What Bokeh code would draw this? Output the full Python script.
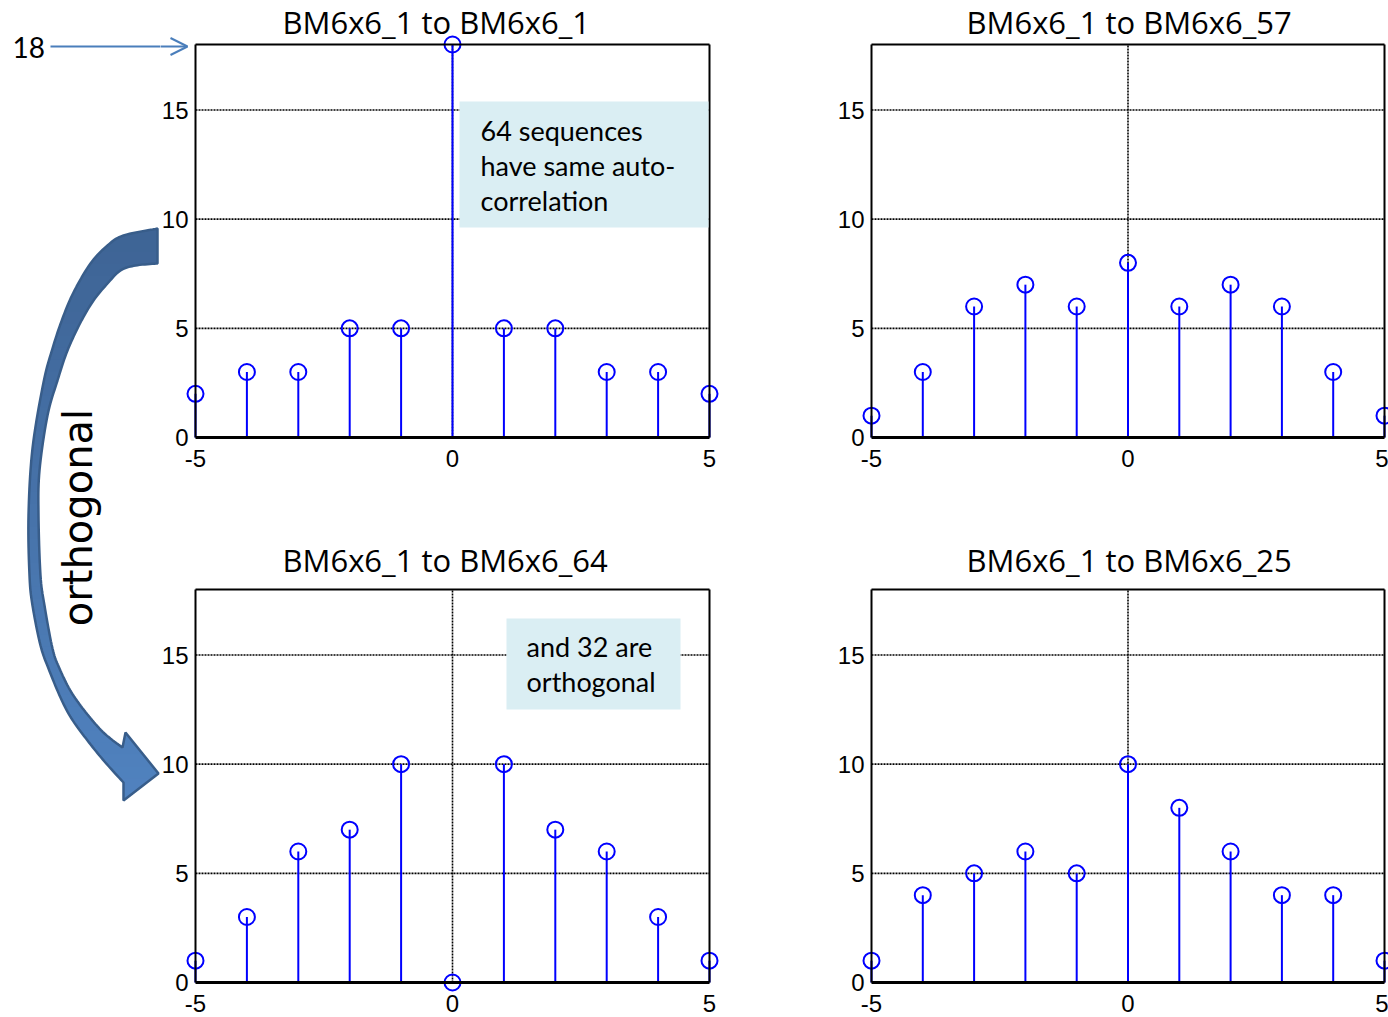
import numpy as np
from bokeh.plotting import figure
from bokeh.models import Range1d, FixedTicker, Label, BoxAnnotation, Arrow, OpenHead, ColumnDataSource
from bokeh.layouts import row, column
from bokeh.embed import file_html
from bokeh.resources import INLINE

# ---------------- data ----------------
lags = [-5, -4, -3, -2, -1, 0, 1, 2, 3, 4, 5]
vals_1_to_1 = [2, 3, 3, 5, 5, 18, 5, 5, 3, 3, 2]
vals_1_to_57 = [1, 3, 6, 7, 6, 8, 6, 7, 6, 3, 1]
vals_1_to_64 = [1, 3, 6, 7, 10, 0, 10, 7, 6, 3, 1]
vals_1_to_25 = [1, 4, 5, 6, 5, 10, 8, 6, 4, 4, 1]
titles = ["BM6x6_1 to BM6x6_1", "BM6x6_1 to BM6x6_57",
          "BM6x6_1 to BM6x6_64", "BM6x6_1 to BM6x6_25"]
x_ticks = [-5, 0, 5]
y_ticks = [0, 5, 10, 15]
x_grid = [0]
y_grid = [5, 10, 15]
x_lim = (-5, 5)
y_lim = (0, 18)
peak_label = "18"
note_top = ["64 sequences", "have same auto-", "correlation"]
note_bottom = ["and 32 are", "orthogonal"]
side_label = "orthogonal"

# ---------------- style ----------------
STEM = "#0000ff"
TICK_FONT = "Liberation Sans"
TITLE_FONT = "Open Sans"
TITLE_SIZE = 31
NOTE_FONT = "Lato"
NOTE_FILL = "#daeef3"
ARROW_BLUE = "#4a7ebb"
PAGE_W, PAGE_H = 1388, 1017
SPLIT_X, SPLIT_Y = 800, 512
ANNOT_W = 160
GRID_DASH = "2 1"


def make_panel(vals, title, fx0, fx1, fy0, fy1, L, R, T, B, title_px, title_base):
    sx = (R - L) / (x_lim[1] - x_lim[0])
    sy = (B - T) / (y_lim[1] - y_lim[0])
    xr = Range1d(x_lim[0] - (L - fx0) / sx, x_lim[1] + (fx1 - R) / sx)
    yr = Range1d(y_lim[0] - (fy1 - B) / sy, y_lim[1] + (T - fy0) / sy)
    p = figure(width=fx1 - fx0, height=fy1 - fy0, x_range=xr, y_range=yr,
               output_backend="svg", toolbar_location=None,
               min_border_left=0, min_border_right=0, min_border_top=0, min_border_bottom=0)
    p.xgrid.visible = False
    p.ygrid.visible = False
    p.outline_line_color = None
    p.background_fill_color = "white"
    p.border_fill_color = "white"

    def dx(px):
        return x_lim[0] + (px - L) / sx

    def dy(py):
        return y_lim[1] + (T - py) / sy

    # dotted grid lines inside the axes box
    p.segment(x0=[x_lim[0]] * len(y_grid), y0=y_grid, x1=[x_lim[1]] * len(y_grid), y1=y_grid,
              line_color="black", line_dash=GRID_DASH, line_width=1.6)
    p.segment(x0=x_grid, y0=[y_lim[0]] * len(x_grid), x1=x_grid, y1=[y_lim[1]] * len(x_grid),
              line_color="black", line_dash=GRID_DASH, line_width=1.6)

    src = ColumnDataSource(dict(x=lags, y=vals, y0=[0] * len(lags)))
    p.segment(x0="x", y0="y0", x1="x", y1="y", source=src, line_color=STEM, line_width=2)
    p.scatter("x", "y", source=src, marker="circle", size=16, fill_color=None,
              line_color=STEM, line_width=2)

    # box: top and right edges
    p.segment(x0=[x_lim[0], x_lim[1]], y0=[y_lim[1], y_lim[0]],
              x1=[x_lim[1], x_lim[1]], y1=[y_lim[1], y_lim[1]],
              line_color="black", line_width=2)

    xa = p.xaxis[0]
    ya = p.yaxis[0]
    xa.fixed_location = y_lim[0]
    xa.bounds = x_lim
    ya.fixed_location = x_lim[0]
    ya.bounds = y_lim
    xa.ticker = FixedTicker(ticks=x_ticks)
    ya.ticker = FixedTicker(ticks=y_ticks)
    xa.major_label_overrides = {t: str(t) for t in x_ticks}
    ya.major_label_overrides = {t: str(t) for t in y_ticks}
    for ax in (xa, ya):
        ax.major_tick_in = 0
        ax.major_tick_out = 0
        ax.minor_tick_in = 0
        ax.minor_tick_out = 0
        ax.major_tick_line_color = None
        ax.minor_tick_line_color = None
        ax.major_label_text_font = TICK_FONT
        ax.major_label_text_font_size = "24px"
        ax.major_label_text_color = "black"
        ax.axis_line_color = "black"
    xa.axis_line_width = 3
    ya.axis_line_width = 2
    xa.major_label_standoff = 12
    ya.major_label_standoff = 7

    p.add_layout(Label(x=dx(title_px), y=dy(title_base - 0.43 * TITLE_SIZE), text=title,
                       text_font=TITLE_FONT, text_font_size=f"{TITLE_SIZE}px",
                       text_color="black", text_align="left", text_baseline="alphabetic"))
    return p, dx, dy


def add_note(p, dx, dy, lines, box_px, text_px, text_py0, line_step):
    l, r, t, b = box_px
    p.add_layout(BoxAnnotation(left=dx(l), right=dx(r), top=dy(t), bottom=dy(b),
                               fill_color=NOTE_FILL, fill_alpha=1, line_color=None))
    for i, s in enumerate(lines):
        p.add_layout(Label(x=dx(text_px), y=dy(text_py0 + i * line_step), text=s,
                           text_font=NOTE_FONT, text_font_size="27px", text_color="black",
                           text_baseline="middle", text_align="left"))


tl, tlx, tly = make_panel(vals_1_to_1, titles[0], ANNOT_W, SPLIT_X, 0, SPLIT_Y,
                          195, 709, 44, 437, 282, 35)
tr, trx, try_ = make_panel(vals_1_to_57, titles[1], SPLIT_X, PAGE_W, 0, SPLIT_Y,
                           871, 1384, 44, 437, 966, 35)
bl, blx, bly = make_panel(vals_1_to_64, titles[2], ANNOT_W, SPLIT_X, SPLIT_Y, PAGE_H,
                          195, 709, 589, 982, 282, 573)
br, brx, bry = make_panel(vals_1_to_25, titles[3], SPLIT_X, PAGE_W, SPLIT_Y, PAGE_H,
                          871, 1384, 589, 982, 966, 573)

add_note(tl, tlx, tly, note_top, (459, 708, 101, 227), 480, 130, 35)
add_note(bl, blx, bly, note_bottom, (506, 680, 618, 709), 526, 646, 35)

# arrow pointing at the peak value (part inside first panel)
tl.add_layout(Arrow(end=OpenHead(size=17, line_color=ARROW_BLUE, line_width=2),
                    x_start=tlx(ANNOT_W - 2), y_start=tly(46), x_end=tlx(187), y_end=tly(46),
                    line_color=ARROW_BLUE, line_width=2))

# ---------------- annotation strip on the left ----------------
a = figure(width=ANNOT_W, height=PAGE_H, x_range=Range1d(0, ANNOT_W), y_range=Range1d(0, PAGE_H),
           output_backend="svg", toolbar_location=None, x_axis_type=None, y_axis_type=None,
           min_border_left=0, min_border_right=0, min_border_top=0, min_border_bottom=0)
a.grid.visible = False
a.outline_line_color = None
a.background_fill_color = "white"
a.border_fill_color = "white"


def fy(py):
    return PAGE_H - py


def catmull(pts, n=10):
    pts = [pts[0]] + list(pts) + [pts[-1]]
    out = []
    for i in range(1, len(pts) - 2):
        p0, p1, p2, p3 = [np.array(pts[k], float) for k in (i - 1, i, i + 1, i + 2)]
        for j in range(n):
            t = j / n
            t2, t3 = t * t, t * t * t
            v = 0.5 * ((2 * p1) + (-p0 + p2) * t + (2 * p0 - 5 * p1 + 4 * p2 - p3) * t2
                       + (-p0 + 3 * p1 - 3 * p2 + p3) * t3)
            out.append((v[0], v[1]))
    out.append(tuple(pts[-2]))
    return out


outer = [(157, 228), (123, 235), (107, 245), (90, 263), (73, 292), (62, 318), (52, 348),
         (43, 382), (32, 448), (28, 515), (29, 575), (32, 605), (40, 645), (48, 668),
         (60, 697), (71, 718), (87, 740), (104, 761), (123, 782)]
head = [(123, 800), (158, 773), (125, 732), (122, 747)]
inner = [(122, 747), (104, 733), (87, 714), (71, 692), (59, 668), (52, 648), (44, 605),
         (40, 575), (38, 515), (39, 470), (47, 415), (57, 380), (67, 350), (80, 322),
         (93, 300), (107, 283), (120, 270), (135, 265), (157, 263)]
shape = catmull(outer) + head + catmull(inner)[1:]
cx = [q[0] for q in shape]
cy = [fy(q[1]) for q in shape]


def clip_band(xs, ys, lo, hi):
    pts = list(zip(xs, ys))

    def clip(pts, inside, inter):
        out = []
        for i in range(len(pts)):
            cur, prev = pts[i], pts[i - 1]
            if inside(cur):
                if not inside(prev):
                    out.append(inter(prev, cur))
                out.append(cur)
            elif inside(prev):
                out.append(inter(prev, cur))
        return out

    def iy(yv):
        def f(p, q):
            t = (yv - p[1]) / (q[1] - p[1])
            return (p[0] + t * (q[0] - p[0]), yv)
        return f

    pts = clip(pts, lambda p: p[1] >= lo, iy(lo))
    if not pts:
        return [], []
    pts = clip(pts, lambda p: p[1] <= hi, iy(hi))
    return [p[0] for p in pts], [p[1] for p in pts]


c_top = np.array([0x3e, 0x64, 0x95])
c_bot = np.array([0x50, 0x82, 0xbf])
ymin, ymax = min(cy), max(cy)
nb = 48
edges = np.linspace(ymin - 1, ymax + 1, nb + 1)
for i in range(nb):
    bx, by = clip_band(cx, cy, edges[i] - 0.6, edges[i + 1] + 0.6)
    if len(bx) < 3:
        continue
    t = i / (nb - 1)
    col = c_bot + (c_top - c_bot) * t
    a.patch(bx, by, fill_color="#%02x%02x%02x" % tuple(int(round(v)) for v in col),
            line_color=None)
a.patch(cx, cy, fill_color=None, line_color="#385d8a", line_width=2.5)

a.add_layout(Label(x=77, y=fy(517), text=side_label, angle=np.pi / 2,
                   text_font="DejaVu Sans", text_font_size="40px", text_color="black",
                   text_align="center", text_baseline="middle"))
a.add_layout(Label(x=12, y=fy(47), text=peak_label, text_font=NOTE_FONT,
                   text_font_size="28px", text_color="black",
                   text_align="left", text_baseline="middle"))
a.line([50, ANNOT_W], [fy(46), fy(46)], line_color=ARROW_BLUE, line_width=2)

layout = row(a, column(row(tl, tr), row(bl, br)))
open("out.html", "w").write(file_html(layout, INLINE))
